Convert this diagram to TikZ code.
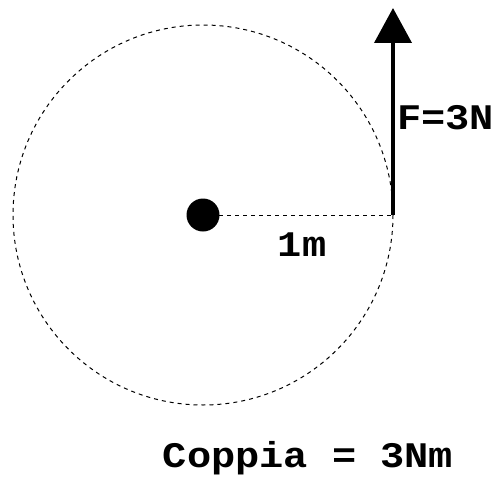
\documentclass[tikz,border=0pt]{standalone}
\usepackage{fontspec}
\newfontfamily\lblfont[FakeStretch=1.12]{Liberation Mono}
\usetikzlibrary{arrows.meta}
\begin{document}
\begin{tikzpicture}[x=1pt,y=-1pt,
  lbl/.style={font=\fontsize{36}{40}\selectfont\lblfont\bfseries, inner sep=0pt},
  dsh/.style={line width=1pt, dash pattern=on 4pt off 4pt},
  force/.style={line width=4pt, -{Triangle[length=35pt,width=37pt]}}]
\useasboundingbox (0,0) rectangle (497,476);
\coordinate (c) at (203,215);
\draw[dsh] (c) circle[radius=190];
\node[circle, fill=black, minimum size=33pt, inner sep=0pt] (dot) at (c) {};
\coordinate (p) at (393,215);
\coordinate (tip) at (393,8);
\draw[dsh] (dot.center) -- (p);
\draw[force] (p) -- (tip);
\node[lbl, anchor=west] (F) at (397,118) {F=3N};
\node[lbl] (r) at (302,245) {1m};
\node[lbl] (cp) at (308,458) {Coppia = 3Nm};
\end{tikzpicture}
\end{document}
